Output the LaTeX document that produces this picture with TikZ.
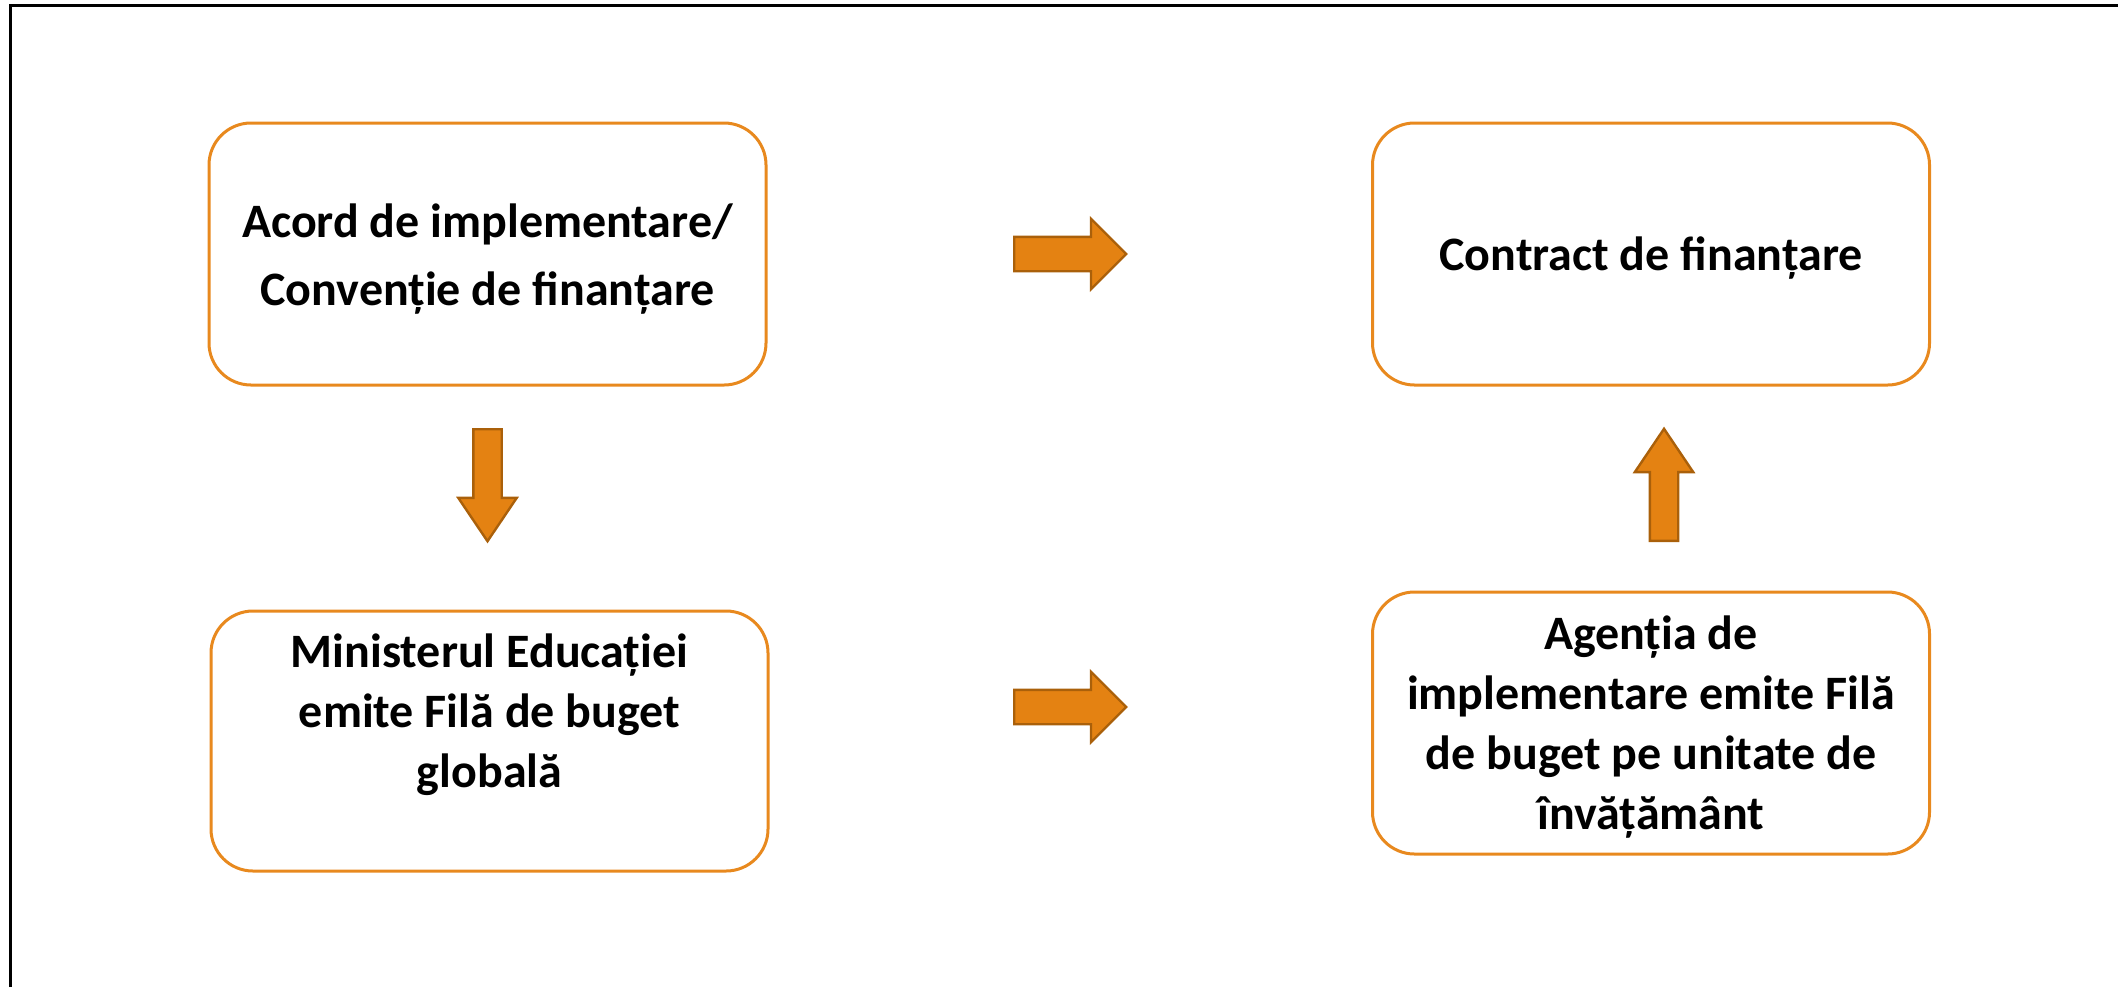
\documentclass[tikz,border=0pt]{standalone}
\usepackage{fontspec}
\setmainfont{Carlito}
\usepackage{tikz}
\usetikzlibrary{shapes.arrows}
\definecolor{boxorange}{RGB}{232,137,30}
\definecolor{arrowfill}{RGB}{228,130,18}
\definecolor{arrowedge}{RGB}{170,96,10}
\tikzstyle{every node}=[inner sep=0pt]
\tikzset{stepbox/.style={draw=boxorange, line width=1.5pt, rounded corners=21pt,
      minimum width=278.5pt, minimum height=131pt, align=center,
      font=\fontsize{24}{30}\selectfont\bfseries}}
\tikzset{blockarrow/.style={single arrow, draw=arrowedge, fill=arrowfill, line width=1.2pt,
      single arrow head indent=0pt, anchor=tail}}
\tikzset{harrow/.style={blockarrow, inner sep=8pt, single arrow head extend=9pt,
      minimum height=56pt}}
\tikzset{varrow/.style={blockarrow, inner sep=6.5pt, single arrow head extend=7.5pt,
      single arrow tip angle=68, minimum height=56pt}}

\begin{document}
\begin{tikzpicture}[x=0.5pt,y=-0.5pt]
    \useasboundingbox (0,0) rectangle (2118,987);
    \draw[line width=1.5pt] (10,987) -- (10,5) -- (2118,5);

    \node[stepbox, font=\fontsize{24}{34}\selectfont\bfseries] (acord) at (487.5,254)
        {\rule{0pt}{22pt}Acord de implementare/\\Convenție de finanțare};
    \node[stepbox] (contract) at (1651,254) {\rule{0pt}{21pt}Contract de finanțare};
    \node[stepbox, minimum height=130pt] (minister) at (489.5,741)
        {Ministerul Educației\\emite Filă de buget\\globală\\\mbox{}};
    \node[stepbox] (agentie) at (1651,723)
        {\rule{0pt}{21pt}Agenția de\\implementare emite Filă\\de buget pe unitate de\\învățământ};

    % block arrows between the boxes
    \node[harrow] (acord-contract) at (1013,254) {};
    \node[harrow] (minister-agentie) at (1013,707) {};
    \node[varrow, shape border rotate=270] (acord-minister) at (487.5,428) {};
    \node[varrow, shape border rotate=90] (agentie-contract) at (1664,542) {};
\end{tikzpicture}
\end{document}
